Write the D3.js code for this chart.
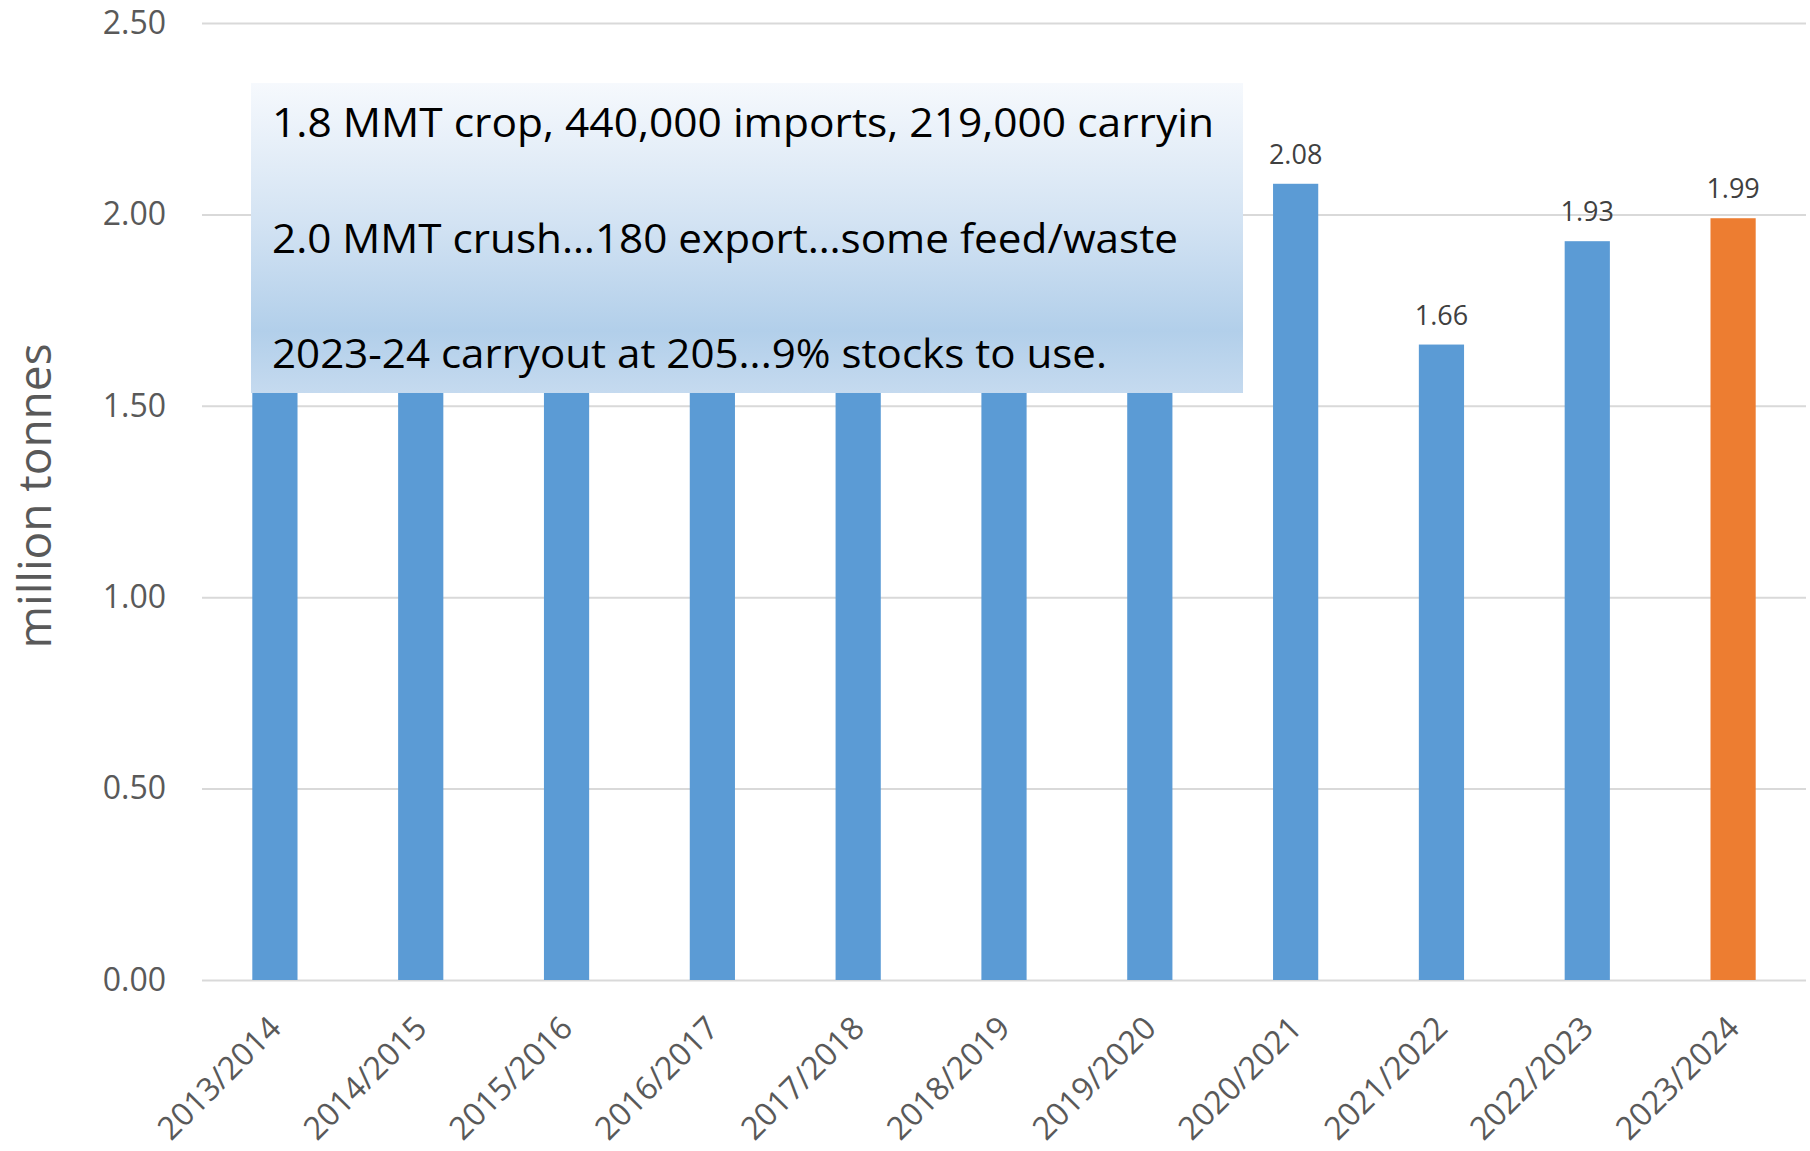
<!DOCTYPE html>
<html>
<head>
<meta charset="utf-8">
<script src="https://cdn.jsdelivr.net/npm/d3@7"></script>
<style>
  body { margin: 0; background: #fff; }
  svg { display: block; font-family: "Open Sans", sans-serif; }
</style>
</head>
<body>
<div id="chart"></div>
<script>
// data (bars 1-7 are mostly hidden behind the note box)
const seasons = ["2013/2014", "2014/2015", "2015/2016", "2016/2017", "2017/2018", "2018/2019",
                 "2019/2020", "2020/2021", "2021/2022", "2022/2023", "2023/2024"];
const crush = [1.68, 1.83, 1.80, 1.88, 1.79, 1.76, 1.91, 2.08, 1.66, 1.93, 1.99];
const highlightSeason = "2023/2024";
const yTicks = [0, 0.5, 1.0, 1.5, 2.0, 2.5];
const yTitle = "million tonnes";
const noteLines = [
  "1.8 MMT crop, 440,000 imports, 219,000 carryin",
  "2.0 MMT crush…180 export…some feed/waste",
  "2023-24 carryout at 205...9% stocks to use."
];

// layout
const W = 1810, H = 1151;
const margin = {top: 23, right: 4, bottom: 171, left: 202};
const width = W - margin.left - margin.right,
      height = H - margin.top - margin.bottom;
const note = {x: 251, y: 83, w: 992, h: 310};

const svg = d3.select("#chart").append("svg")
    .attr("width", W)
    .attr("height", H);

const g = svg.append("g")
    .attr("transform", `translate(${margin.left},${margin.top})`);

const x = d3.scaleBand()
    .domain(seasons)
    .range([0, width])
    .paddingInner(0.69)
    .paddingOuter(0.345);

const y = d3.scaleLinear()
    .domain([0, 2.5])
    .range([height, 0]);

// gridlines + y labels
const yAxis = g.append("g")
    .call(d3.axisLeft(y).tickValues(yTicks).tickFormat(d3.format(".2f")).tickSize(-width).tickPadding(36));
yAxis.select(".domain").remove();
yAxis.selectAll("line").attr("stroke", "#d9d9d9").attr("stroke-width", 2);
yAxis.selectAll("text")
    .attr("fill", "#595959")
    .style("font-size", "32px")
    .style("font-family", "Open Sans, sans-serif");

// x labels, rotated
const xAxis = g.append("g")
    .attr("transform", `translate(0,${height})`)
    .call(d3.axisBottom(x).tickSize(0));
xAxis.select(".domain").remove();
xAxis.selectAll("text")
    .attr("x", 0).attr("y", 0).attr("dy", 0)
    .attr("transform", "translate(8,50) rotate(-45)")
    .attr("text-anchor", "end")
    .attr("fill", "#595959")
    .style("font-size", "32px")
    .style("font-family", "Open Sans, sans-serif");

// bars
g.selectAll("rect.bar")
    .data(seasons)
    .join("rect")
    .attr("class", "bar")
    .attr("x", (d) => x(d))
    .attr("y", (d, i) => y(crush[i]))
    .attr("width", x.bandwidth())
    .attr("height", (d, i) => height - y(crush[i]))
    .attr("fill", (d) => d === highlightSeason ? "#ed7d31" : "#5b9bd5");

// value labels: only the ones not covered by the note box
const shown = seasons.map((d, i) => i)
    .filter((i) => margin.left + x(seasons[i]) > note.x + note.w);
g.selectAll("text.val")
    .data(shown)
    .join("text")
    .attr("class", "val")
    .attr("x", (i) => x(seasons[i]) + x.bandwidth() / 2)
    .attr("y", (i) => y(crush[i]) - 20)
    .attr("text-anchor", "middle")
    .attr("fill", "#404040")
    .style("font-size", "27px")
    .text((i) => d3.format(".2f")(crush[i]));

// y title
svg.append("text")
    .attr("transform", "translate(51,496) rotate(-90)")
    .attr("text-anchor", "middle")
    .attr("fill", "#595959")
    .style("font-size", "46px")
    .text(yTitle);

// note box with gradient
const grad = svg.append("defs").append("linearGradient")
    .attr("id", "noteFill")
    .attr("x1", 0).attr("y1", 0).attr("x2", 0).attr("y2", 1);
grad.append("stop").attr("offset", "0%").attr("stop-color", "#f6f9fd");
grad.append("stop").attr("offset", "45%").attr("stop-color", "#d3e3f3");
grad.append("stop").attr("offset", "80%").attr("stop-color", "#b2cfea");
grad.append("stop").attr("offset", "100%").attr("stop-color", "#c5daef");

svg.append("rect")
    .attr("x", note.x).attr("y", note.y)
    .attr("width", note.w).attr("height", note.h)
    .attr("fill", "url(#noteFill)");

const noteWidths = [942, 906, 835];
svg.selectAll("text.note")
    .data(noteLines)
    .join("text")
    .attr("class", "note")
    .attr("x", 272)
    .attr("y", (d, i) => 137 + i * 115.5)
    .attr("fill", "#000")
    .style("font-size", "41px")
    .attr("textLength", (d, i) => noteWidths[i])
    .attr("lengthAdjust", "spacingAndGlyphs")
    .text((d) => d);
</script>
</body>
</html>
